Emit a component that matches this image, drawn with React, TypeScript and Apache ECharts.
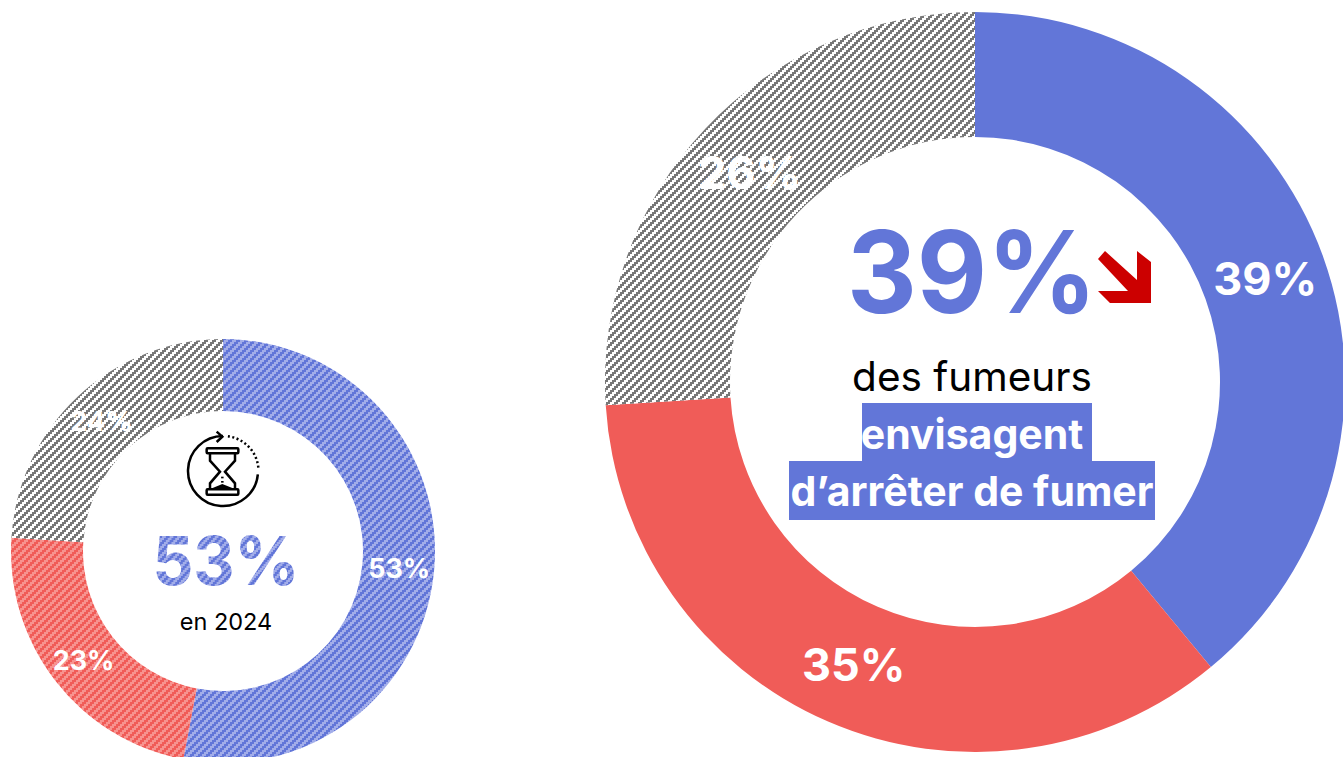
import React, { useEffect, useRef } from "react";
import * as echarts from "echarts";

const segmentNames = ["Oui", "Non", "Ne sait pas"];
const values2025 = [39, 35, 26];
const values2024 = [53, 23, 24];
const labelOffsets2025 = [[-2, 2], [2, -2], [1, 3]];
const labelOffsets2024 = [[-2, 1], [2, 0], [1, 1]];
const FONT = "Inter";
const BLUE = "#6276D8";
const RED = "#F05C58";
const TILE = 8;

function stripeCanvas(dark: string, light: string) {
  const c = document.createElement("canvas");
  c.width = TILE;
  c.height = TILE;
  const ctx = c.getContext("2d")!;
  for (let x = 0; x < TILE; x++) {
    for (let y = 0; y < TILE; y++) {
      ctx.fillStyle = ((x >> 1) + (y >> 1)) % 4 < 2 ? dark : light;
      ctx.fillRect(x, y, 1, 1);
    }
  }
  return c;
}
const stripes = (dark: string, light: string) =>
  ({ image: stripeCanvas(dark, light), repeat: "repeat" } as any);

const pt = (x: number, y: number): number[] => [170 + x / 3, 420 + y / 3];
const ink = { stroke: "#000", fill: "none", lineWidth: 2 };

function hourglass(): any[] {
  const cx = 223;
  const cy = 471;
  const r = 35;
  const line = (pts: number[][], lw = 2.5) => ({
    type: "polyline",
    shape: { points: pts.map((p) => pt(p[0], p[1])) },
    style: { ...ink, lineWidth: lw },
    silent: true,
  });
  const bar = (x: number, y: number, w: number, h: number) => ({
    type: "rect",
    shape: { x: pt(x, y)[0], y: pt(x, y)[1], width: w / 3, height: h / 3, r: 1 },
    style: { ...ink, lineWidth: 2.5 },
    silent: true,
  });
  return [
    {
      type: "arc",
      shape: { cx, cy, r, startAngle: -Math.PI / 2, endAngle: Math.PI * 0.03, clockwise: false },
      style: { ...ink, lineWidth: 2.5 },
      silent: true,
    },
    {
      type: "arc",
      shape: { cx: cx + 0.5, cy, r, startAngle: -Math.PI * 0.46, endAngle: -Math.PI * 0.02, clockwise: true },
      style: { ...ink, lineWidth: 2.5, lineDash: [2, 2.5] },
      silent: true,
    },
    line([[140, 35], [157, 50], [140, 66]]),
    bar(110, 85, 95, 15),
    bar(110, 208, 95, 16),
    line([[120, 100], [120, 122], [150, 155], [120, 190], [120, 208]]),
    line([[195, 100], [195, 122], [165, 155], [195, 190], [195, 208]]),
    line([[157, 170], [157, 175]]),
    line([[157, 183], [157, 188]]),
    {
      type: "polygon",
      shape: { points: [pt(128, 204), pt(157, 192), pt(187, 204)] },
      style: { fill: "#000" },
      silent: true,
    },
  ];
}

function donut(center: number[], radius: number[], values: number[], colors: any[], fontSize: number, offsets: number[][]) {
  return {
    type: "pie",
    center,
    radius,
    startAngle: 90,
    clockwise: true,
    silent: true,
    animation: false,
    avoidLabelOverlap: false,
    labelLine: { show: false },
    label: {
      show: true,
      position: "inside",
      formatter: "{c}%",
      color: "#fff",
      fontFamily: FONT,
      fontWeight: 700,
      fontSize,
    },
    data: values.map((value, i) => ({
      name: segmentNames[i],
      value,
      itemStyle: { color: colors[i] },
      label: { offset: offsets[i] },
    })),
  };
}

export default function App() {
  const ref = useRef<HTMLDivElement>(null);
  useEffect(() => {
    document.body.style.margin = "0";
    const chart = echarts.init(ref.current!, undefined, { renderer: "svg" });
    const gray = stripes("#787878", "#ffffff");
    const blueS = stripes("#6276D8", "#A2ADE9");
    const redS = stripes("#F05C58", "#F7938F");
    const txt = (x: number, y: number, text: string, fontSize: number, fill: any, fontWeight: number = 400, scaleX = 1) => ({
      type: "text",
      x,
      y,
      scaleX,
      silent: true,
      style: { text, fontSize, fontFamily: FONT, fontWeight, fill, align: "center", verticalAlign: "middle" },
    });
    chart.setOption({
      animation: false,
      backgroundColor: "#fff",
      series: [
        donut([975, 382], [245, 370], values2025, [BLUE, RED, gray], 45, labelOffsets2025),
        donut([223, 551], [140, 212], values2024, [blueS, redS, gray], 27, labelOffsets2024),
      ],
      graphic: [
        txt(972, 271, "39%", 114, BLUE, 700, 0.95),
        {
          type: "polygon",
          silent: true,
          shape: {
            points: [
              [1098, 259], [1105, 251], [1137, 280], [1137, 251], [1151, 262],
              [1151, 303], [1110, 303], [1098, 291], [1128, 291],
            ],
          },
          style: { fill: "#CC0000" },
        },
        txt(972, 376, "des fumeurs", 40.5, "#000"),
        { type: "rect", silent: true, shape: { x: 862, y: 403, width: 230, height: 58 }, style: { fill: BLUE } },
        { type: "rect", silent: true, shape: { x: 789, y: 461, width: 366, height: 59 }, style: { fill: BLUE } },
        txt(972, 434, "envisagent", 41, "#fff", 700),
        txt(972, 491, "d’arrêter de fumer", 41, "#fff", 700),
        txt(226, 560, "53%", 68, BLUE, 700, 0.94),
        txt(226, 621, "en 2024", 23.5, "#000"),
        ...hourglass(),
      ],
    });
    // The SVG text painter ignores pattern fills, so the striped "53%" gets its pattern here.
    const svg = ref.current!.querySelector("svg");
    if (svg) {
      const ns = "http://www.w3.org/2000/svg";
      const pattern = document.createElementNS(ns, "pattern");
      pattern.setAttribute("id", "stripe53");
      pattern.setAttribute("patternUnits", "userSpaceOnUse");
      pattern.setAttribute("width", String(TILE));
      pattern.setAttribute("height", String(TILE));
      const image = document.createElementNS(ns, "image");
      image.setAttribute("href", stripeCanvas("#6276D8", "#A2ADE9").toDataURL());
      image.setAttribute("width", String(TILE));
      image.setAttribute("height", String(TILE));
      pattern.appendChild(image);
      const defs = document.createElementNS(ns, "defs");
      defs.appendChild(pattern);
      svg.appendChild(defs);
      svg.querySelectorAll("text").forEach((t) => {
        if (t.textContent === "53%" && t.getAttribute("fill") !== "#fff") t.setAttribute("fill", "url(#stripe53)");
      });
    }
    return () => chart.dispose();
  }, []);
  return <div ref={ref} style={{ position: "fixed", left: 0, top: 0, width: 1343, height: 757 }} />;
}
